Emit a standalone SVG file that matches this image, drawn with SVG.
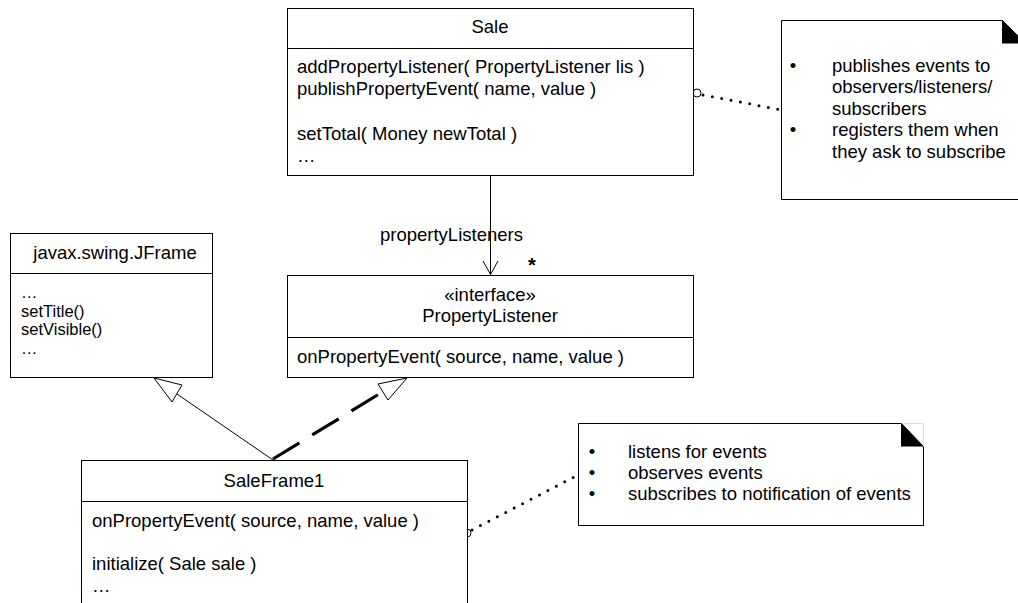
<svg xmlns="http://www.w3.org/2000/svg" width="1018" height="603" viewBox="0 0 1018 603">
<style>
text{font-family:"Liberation Sans",Arial,sans-serif;font-size:18.5px;fill:#000}
.c{text-anchor:middle}
.sm{font-size:16.5px}
.box{fill:#fff;stroke:#000;stroke-width:1}
.ln{stroke:#000;stroke-width:1;fill:none}
.dot{stroke:#000;stroke-width:3;stroke-linecap:round;stroke-dasharray:0 9.5;fill:none}
.hollow{fill:#fff;stroke:#000;stroke-width:1}
</style>
<rect width="1018" height="603" fill="#fff"/>
<g id="connectors">
  <line class="ln" x1="490.5" y1="175" x2="490.5" y2="275"/>
  <polyline class="ln" points="483,261 490.5,274.5 498,261"/>
  <text x="380" y="241">propertyListeners</text>
  <text x="532" y="272" class="c" style="font-weight:bold;font-size:20px">*</text>
  <line class="ln" x1="273" y1="460" x2="177" y2="394"/>
  <polygon class="hollow" points="154,378 182,385 172,402"/>
  <line x1="273" y1="459" x2="384" y2="391" stroke="#000" stroke-width="3.2" stroke-dasharray="31 15"/>
  <polygon class="hollow" points="407,378 378,384 388,400"/>
  <circle cx="697" cy="93" r="4" fill="#fff" stroke="#000"/>
  <line class="dot" x1="703" y1="95" x2="782" y2="110"/>
  <circle cx="467" cy="533" r="4" fill="#fff" stroke="#000"/>
  <line class="dot" x1="472" y1="530" x2="578" y2="475"/>
</g>
<g id="Sale">
  <rect class="box" x="287.5" y="8.5" width="406" height="167"/>
  <line class="ln" x1="287.5" y1="48.5" x2="693.5" y2="48.5"/>
  <text x="490" y="33" class="c">Sale</text>
  <text x="297" y="73">addPropertyListener( PropertyListener lis )</text>
  <text x="297" y="94.5">publishPropertyEvent( name, value )</text>
  <text x="297" y="140">setTotal( Money newTotal )</text>
  <text x="297" y="161.5">…</text>
</g>
<g id="JFrame">
  <rect class="box" x="10.5" y="233.5" width="202" height="144"/>
  <line class="ln" x1="10.5" y1="273.5" x2="212.5" y2="273.5"/>
  <text x="115" y="259" class="c">javax.swing.JFrame</text>
  <text x="21" y="298" class="sm">…</text>
  <text x="21" y="316.5" class="sm">setTitle()</text>
  <text x="21" y="335" class="sm">setVisible()</text>
  <text x="21" y="353.5" class="sm">…</text>
</g>
<g id="PropertyListener">
  <rect class="box" x="287.5" y="275.5" width="406" height="102"/>
  <line class="ln" x1="287.5" y1="337.5" x2="693.5" y2="337.5"/>
  <text x="490" y="301" class="c">«interface»</text>
  <text x="490" y="322" class="c">PropertyListener</text>
  <text x="297" y="363">onPropertyEvent( source, name, value )</text>
</g>
<g id="SaleFrame1">
  <rect class="box" x="81.5" y="460.5" width="386" height="160"/>
  <line class="ln" x1="81.5" y1="501.5" x2="467.5" y2="501.5"/>
  <text x="274" y="487" class="c">SaleFrame1</text>
  <text x="92" y="527">onPropertyEvent( source, name, value )</text>
  <text x="92" y="570">initialize( Sale sale )</text>
  <text x="92" y="592">…</text>
</g>
<g id="note-publisher">
  <path class="box" d="M781.5,20.5 H1002.5 L1025.5,43.5 V199.5 H781.5 Z"/>
  <polygon points="1002,20 1002,43.5 1025,43.5" fill="#000"/>
  <text x="793" y="71.5" class="c">•</text>
  <text x="832" y="71.5">publishes events to</text>
  <text x="832" y="93">observers/listeners/</text>
  <text x="832" y="114.5">subscribers</text>
  <text x="793" y="136" class="c">•</text>
  <text x="832" y="136">registers them when</text>
  <text x="832" y="157.5">they ask to subscribe</text>
</g>
<g id="note-listener">
  <path class="box" d="M578.5,423.5 H901.5 L923.5,446.5 V525.5 H578.5 Z"/>
  <path d="M901.5,423.5 H923.5 V446.5" fill="none" stroke="#ddd" stroke-width="1"/>
  <polygon points="901,423 901,446.5 923.5,446.5" fill="#000"/>
  <text x="592" y="458" class="c">•</text>
  <text x="628" y="458">listens for events</text>
  <text x="592" y="479" class="c">•</text>
  <text x="628" y="479">observes events</text>
  <text x="592" y="500" class="c">•</text>
  <text x="628" y="500">subscribes to notification of events</text>
</g>
</svg>
